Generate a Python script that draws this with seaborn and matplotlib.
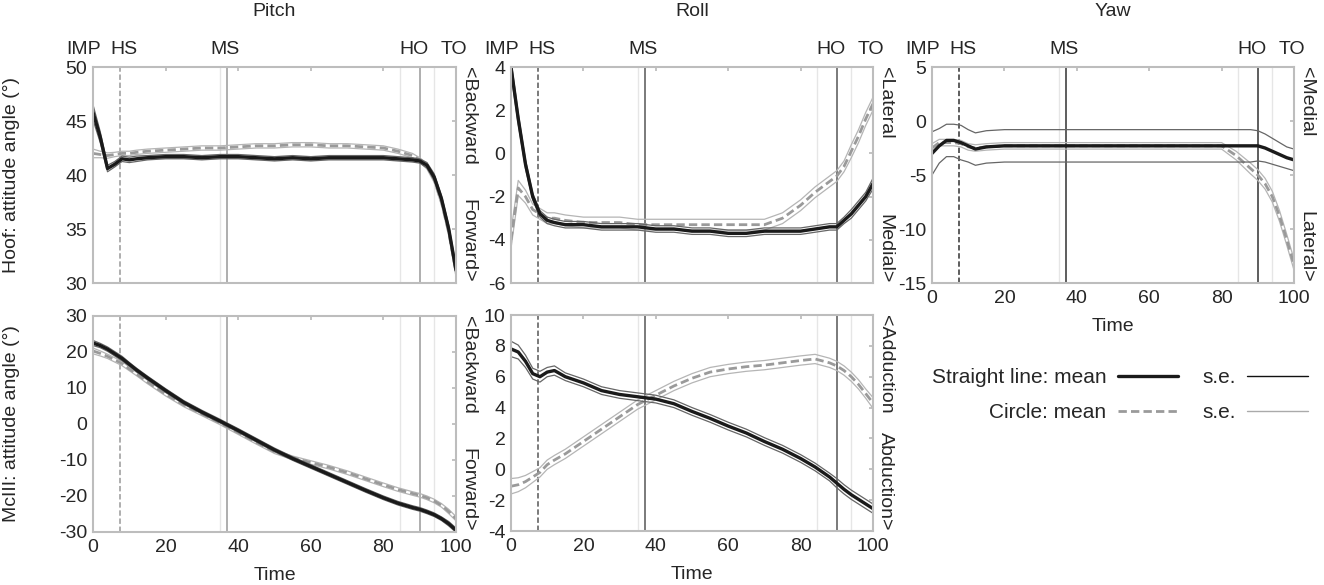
import numpy as np
import matplotlib
matplotlib.use("Agg")
import matplotlib.pyplot as plt
import seaborn as sns
from matplotlib.lines import Line2D

sns.set_theme(style="white")
plt.rcParams['font.family'] = ['Liberation Sans', 'DejaVu Sans']
plt.rcParams['axes.unicode_minus'] = False

# normalised stance time (%)
t = [0, 2, 4, 6, 8, 10, 12, 15, 20, 25, 30, 35, 40, 45, 50, 55, 60, 65, 70, 75,
     80, 84, 88, 90, 92, 94, 96, 98, 100]

# Hoof pitch
hoof_pitch_straight = [45.8, 43.5, 40.6, 41.0, 41.5, 41.4, 41.5, 41.6, 41.7, 41.7, 41.6, 41.7, 41.7, 41.6, 41.5,
                       41.6, 41.5, 41.6, 41.6, 41.6, 41.6, 41.5, 41.4, 41.3, 40.9, 39.8, 37.8, 35.0, 31.2]
hoof_pitch_straight_se = [0.7, 0.5, 0.3, 0.25, 0.25, 0.25, 0.25, 0.2, 0.2, 0.2, 0.2, 0.2, 0.2, 0.2, 0.2,
                          0.2, 0.2, 0.2, 0.2, 0.2, 0.2, 0.2, 0.2, 0.2, 0.25, 0.3, 0.3, 0.35, 0.4]
hoof_pitch_circle = [42.0, 41.9, 41.8, 41.9, 42.0, 42.0, 42.1, 42.2, 42.3, 42.4, 42.5, 42.5, 42.6, 42.7, 42.7,
                     42.8, 42.8, 42.7, 42.7, 42.6, 42.5, 42.2, 41.8, 41.4, 40.8, 39.6, 37.5, 34.7, 31.0]
hoof_pitch_circle_se = [0.4, 0.3, 0.25, 0.2, 0.2, 0.2, 0.2, 0.2, 0.2, 0.2, 0.2, 0.2, 0.2, 0.2, 0.2,
                        0.2, 0.2, 0.2, 0.2, 0.2, 0.2, 0.2, 0.2, 0.2, 0.25, 0.3, 0.3, 0.35, 0.4]

# Hoof roll
hoof_roll_straight = [4.0, 1.6, -0.5, -2.0, -2.8, -3.1, -3.2, -3.3, -3.3, -3.4, -3.4, -3.4, -3.5, -3.5, -3.6,
                      -3.6, -3.7, -3.7, -3.6, -3.6, -3.6, -3.5, -3.4, -3.4, -3.1, -2.8, -2.4, -2.0, -1.4]
hoof_roll_straight_se = [0.3, 0.25, 0.2, 0.15, 0.15, 0.15, 0.15, 0.15, 0.15, 0.15, 0.15, 0.15, 0.15, 0.15, 0.15,
                         0.15, 0.15, 0.15, 0.15, 0.15, 0.15, 0.15, 0.15, 0.15, 0.15, 0.2, 0.2, 0.2, 0.25]
hoof_roll_circle = [-4.0, -1.6, -2.0, -2.6, -2.8, -3.0, -3.0, -3.1, -3.2, -3.2, -3.2, -3.3, -3.3, -3.3, -3.3,
                    -3.3, -3.3, -3.3, -3.3, -3.0, -2.4, -1.8, -1.3, -1.05, -0.6, 0.1, 0.8, 1.6, 2.3]
hoof_roll_circle_se = [0.4, 0.35, 0.3, 0.25, 0.25, 0.25, 0.25, 0.25, 0.25, 0.25, 0.25, 0.25, 0.25, 0.25, 0.25,
                       0.25, 0.25, 0.25, 0.25, 0.25, 0.25, 0.25, 0.25, 0.25, 0.25, 0.3, 0.3, 0.3, 0.3]

# Hoof yaw
hoof_yaw_straight = [-3.0, -2.3, -1.8, -1.8, -2.0, -2.3, -2.6, -2.4, -2.3, -2.3, -2.3, -2.3, -2.3, -2.3, -2.3,
                     -2.3, -2.3, -2.3, -2.3, -2.3, -2.3, -2.3, -2.3, -2.3, -2.5, -2.8, -3.1, -3.4, -3.6]
hoof_yaw_straight_se = [2.0, 1.6, 1.5, 1.5, 1.6, 1.5, 1.5, 1.5, 1.5, 1.5, 1.5, 1.5, 1.5, 1.5, 1.5,
                        1.5, 1.5, 1.5, 1.5, 1.5, 1.5, 1.5, 1.5, 1.4, 1.3, 1.2, 1.1, 1.0, 1.0]
hoof_yaw_circle = [-2.5, -2.0, -2.0, -2.0, -2.1, -2.4, -2.5, -2.4, -2.3, -2.3, -2.3, -2.3, -2.3, -2.3, -2.3,
                   -2.3, -2.3, -2.3, -2.3, -2.3, -2.3, -3.2, -4.4, -5.0, -5.8, -7.0, -8.8, -11.0, -13.3]
hoof_yaw_circle_se = [0.4, 0.3, 0.3, 0.3, 0.3, 0.3, 0.3, 0.3, 0.3, 0.3, 0.3, 0.3, 0.3, 0.3, 0.3,
                      0.3, 0.3, 0.3, 0.3, 0.3, 0.3, 0.4, 0.5, 0.5, 0.5, 0.5, 0.5, 0.5, 0.5]

# McIII pitch
mc_pitch_straight = [22.5, 21.8, 20.8, 19.5, 18.2, 16.6, 15.0, 12.8, 9.3, 6.0, 3.3, 0.8, -1.8, -4.5, -7.2,
                     -9.6, -11.8, -14.0, -16.2, -18.4, -20.5, -22.0, -23.2, -23.7, -24.4, -25.2, -26.3, -27.7, -29.5]
mc_pitch_straight_se = [0.7, 0.6, 0.6, 0.6, 0.6, 0.5, 0.5, 0.5, 0.5, 0.5, 0.5, 0.5, 0.5, 0.5, 0.5,
                        0.5, 0.5, 0.5, 0.5, 0.5, 0.5, 0.5, 0.5, 0.5, 0.5, 0.5, 0.5, 0.6, 0.6]
mc_pitch_circle = [20.3, 19.6, 18.8, 17.8, 16.8, 15.3, 13.9, 11.7, 8.3, 5.3, 2.8, 0.3, -2.4, -5.1, -7.7,
                   -9.4, -10.7, -12.0, -13.5, -15.2, -16.9, -18.2, -19.3, -19.8, -20.5, -21.4, -22.6, -24.3, -26.3]
mc_pitch_circle_se = [0.8, 0.7, 0.6, 0.6, 0.6, 0.5, 0.5, 0.5, 0.5, 0.5, 0.5, 0.5, 0.5, 0.5, 0.5,
                      0.5, 0.5, 0.5, 0.5, 0.5, 0.5, 0.5, 0.5, 0.5, 0.5, 0.5, 0.5, 0.6, 0.6]

# McIII roll
mc_roll_straight = [7.8, 7.6, 7.0, 6.2, 6.0, 6.3, 6.4, 6.0, 5.6, 5.1, 4.85, 4.7, 4.55, 4.25, 3.75,
                    3.3, 2.8, 2.35, 1.8, 1.3, 0.7, 0.15, -0.5, -0.9, -1.3, -1.65, -1.95, -2.25, -2.55]
mc_roll_straight_se = [0.5, 0.45, 0.4, 0.35, 0.35, 0.3, 0.3, 0.25, 0.25, 0.25, 0.25, 0.25, 0.25, 0.25, 0.25,
                       0.25, 0.25, 0.25, 0.25, 0.25, 0.25, 0.25, 0.25, 0.3, 0.3, 0.3, 0.3, 0.3, 0.3]
mc_roll_circle = [-1.1, -1.0, -0.8, -0.5, -0.2, 0.3, 0.6, 1.0, 1.8, 2.6, 3.4, 4.2, 4.8, 5.4, 5.9,
                  6.3, 6.5, 6.65, 6.75, 6.9, 7.05, 7.15, 6.9, 6.7, 6.4, 6.0, 5.5, 4.9, 4.3]
mc_roll_circle_se = [0.5, 0.45, 0.4, 0.35, 0.3, 0.3, 0.3, 0.3, 0.3, 0.3, 0.3, 0.3, 0.3, 0.3, 0.3,
                     0.3, 0.3, 0.3, 0.3, 0.3, 0.3, 0.3, 0.3, 0.3, 0.3, 0.3, 0.3, 0.3, 0.35]

events = ['IMP', 'HS', 'MS', 'HO', 'TO']
event_label_x = [-2.5, 8.5, 36.5, 88.5, 99.5]
event_hs, event_ms, event_ho = 7.5, 37, 90

FS = 14
C_STRAIGHT = '#1a1a1a'
C_CIRCLE = '#9a9a9a'

fig = plt.figure(figsize=(13.24, 5.85), dpi=100)
W, H = 1324, 585


def make_ax(left, top, right, bottom):
    return fig.add_axes([left / W, 1 - bottom / H, (right - left) / W, (bottom - top) / H])


def panel(ax, ms, ses, mc, sec, ylim, yticks, line_col, top_label, bot_label,
          xlabels=False, event_text=False, title=None, ylabel=None):
    ms, ses, mc, sec = map(np.asarray, (ms, ses, mc, sec))
    # faint individual event lines
    for x in [35, 84.5, 94]:
        ax.axvline(x, color='#e6e6e6', lw=1, zorder=0)
    ax.axvline(event_hs, color=line_col, lw=1.3, ls=(0, (3, 1.5)), zorder=1)
    ax.axvline(event_ms, color=line_col, lw=1.3, zorder=1)
    ax.axvline(event_ho, color=line_col, lw=1.3, zorder=1)

    sns.lineplot(x=t, y=mc + sec, ax=ax, color='#b5b5b5', lw=0.9)
    sns.lineplot(x=t, y=mc - sec, ax=ax, color='#b5b5b5', lw=0.9)
    sns.lineplot(x=t, y=mc, ax=ax, color=C_CIRCLE, lw=2, linestyle=(0, (3, 1.5)))
    sns.lineplot(x=t, y=ms + ses, ax=ax, color='#666666', lw=0.9)
    sns.lineplot(x=t, y=ms - ses, ax=ax, color='#666666', lw=0.9)
    sns.lineplot(x=t, y=ms, ax=ax, color=C_STRAIGHT, lw=2.4)

    ax.set_xlim(0, 100)
    ax.set_ylim(*ylim)
    ax.set_yticks(yticks)
    ax.set_xticks([0, 20, 40, 60, 80, 100])
    ax.tick_params(direction='in', length=3, color='#bbbbbb', labelsize=FS,
                   top=True, right=True, labelbottom=xlabels)
    ax.tick_params(axis='x', pad=5)
    ax.tick_params(axis='y', pad=4)
    for s in ax.spines.values():
        s.set_color('#bdbdbd')
        s.set_linewidth(1.5)
    if xlabels:
        ax.set_xlabel('Time', fontsize=FS, labelpad=8)
    else:
        ax.set_xlabel('')
    if ylabel:
        ax.set_ylabel(ylabel, fontsize=FS)
        ax.yaxis.set_label_coords(-0.2, 0.5)
    else:
        ax.set_ylabel('')
    ax.text(1.01, 1.0, top_label, transform=ax.transAxes, rotation=270,
            ha='left', va='top', fontsize=FS)
    ax.text(1.01, 0.0, bot_label, transform=ax.transAxes, rotation=270,
            ha='left', va='bottom', fontsize=FS)
    if event_text:
        for lab, x in zip(events, event_label_x):
            ax.text(x, 1.08, lab, transform=ax.get_xaxis_transform(),
                    ha='center', va='center', fontsize=FS)
    if title:
        ax.text(0.5, 1.255, title, transform=ax.transAxes, ha='center', va='center', fontsize=FS)


ax1 = make_ax(93, 67, 456, 283)
ax2 = make_ax(511, 67, 873, 283)
ax3 = make_ax(932, 67, 1294, 283)
ax4 = make_ax(93, 316, 456, 532)
ax5 = make_ax(511, 315, 873, 531)

panel(ax1, hoof_pitch_straight, hoof_pitch_straight_se, hoof_pitch_circle, hoof_pitch_circle_se,
      (30, 50), [30, 35, 40, 45, 50], '#a8a8a8', '<Backward', 'Forward>',
      event_text=True, title='Pitch', ylabel='Hoof: attitude angle (°)')
panel(ax2, hoof_roll_straight, hoof_roll_straight_se, hoof_roll_circle, hoof_roll_circle_se,
      (-6, 4), [-6, -4, -2, 0, 2, 4], '#707070', '<Lateral', 'Medial>',
      event_text=True, title='Roll')
panel(ax3, hoof_yaw_straight, hoof_yaw_straight_se, hoof_yaw_circle, hoof_yaw_circle_se,
      (-15, 5), [-15, -10, -5, 0, 5], '#505050', '<Medial', 'Lateral>',
      xlabels=True, event_text=True, title='Yaw')
panel(ax4, mc_pitch_straight, mc_pitch_straight_se, mc_pitch_circle, mc_pitch_circle_se,
      (-30, 30), [-30, -20, -10, 0, 10, 20, 30], '#a8a8a8', '<Backward', 'Forward>',
      xlabels=True, ylabel='McIII: attitude angle (°)')
panel(ax5, mc_roll_straight, mc_roll_straight_se, mc_roll_circle, mc_roll_circle_se,
      (-4, 10), [-4, -2, 0, 2, 4, 6, 8, 10], '#707070', '<Adduction', 'Abduction>',
      xlabels=True)

handles = [Line2D([], [], color=C_STRAIGHT, lw=2.4),
           Line2D([], [], color=C_CIRCLE, lw=2, ls=(0, (3, 1.5))),
           Line2D([], [], color='#111111', lw=1),
           Line2D([], [], color='#aaaaaa', lw=1)]
labels = ['Straight line: mean', 'Circle: mean', 's.e.', 's.e.']
fig.legend(handles, labels, ncol=2, markerfirst=False, frameon=False, fontsize=15,
           handlelength=2.9, handletextpad=0.55, columnspacing=1.15, labelspacing=0.75,
           borderpad=0, loc='center right', bbox_to_anchor=(1318 / W, 1 - 395 / H))

fig.savefig('out.png', dpi=100)
